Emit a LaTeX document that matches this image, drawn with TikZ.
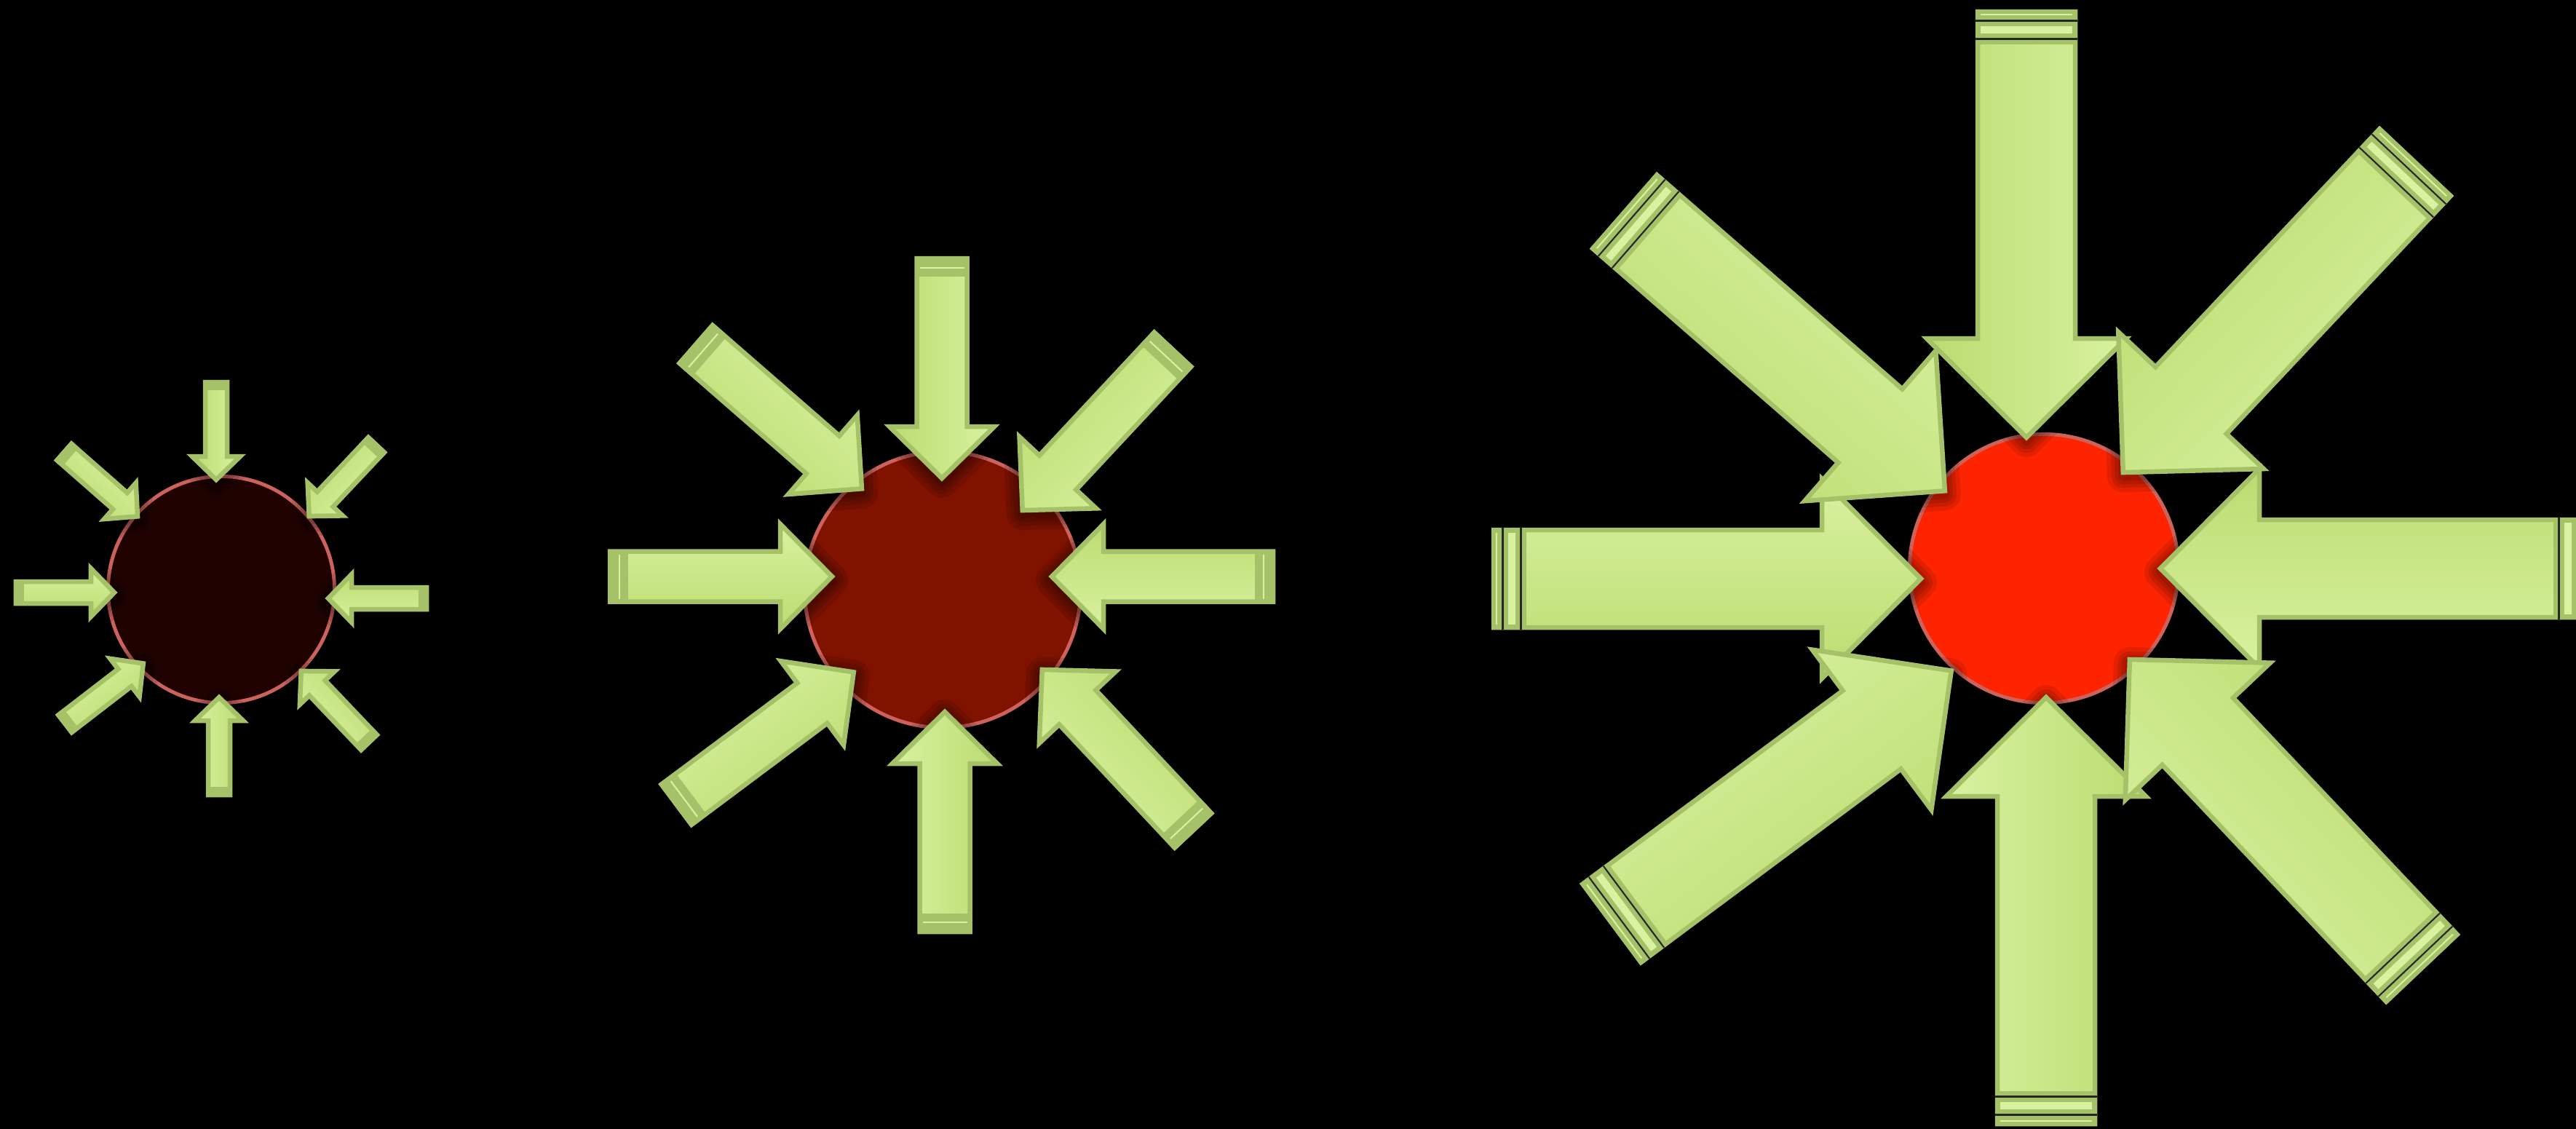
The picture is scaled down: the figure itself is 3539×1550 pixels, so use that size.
\documentclass[tikz,border=0pt]{standalone}
\usetikzlibrary{calc}

\definecolor{arrowedge}{RGB}{166,194,104}
\definecolor{arrowlight}{RGB}{216,242,160}
\definecolor{arrowdark}{RGB}{188,220,112}
\definecolor{coreedge}{RGB}{205,98,92}
\definecolor{coreone}{RGB}{32,3,0}
\definecolor{coretwo}{RGB}{128,18,0}
\definecolor{corethree}{RGB}{255,36,0}

% block arrow: tail x, tail y, tip x, tip y, shaft width, kind of tail cap
\newcommand{\blockarrow}[6]{%
  \pgfmathsetmacro{\arang}{atan2(#2-#4,#3-#1)}%
  \pgfmathsetmacro{\arlen}{veclen(#3-#1,#4-#2)}%
  \pgfmathsetmacro{\ars}{#5/2-3}%
  \pgfmathsetmacro{\arw}{#5-3}%
  \pgfmathsetmacro{\arh}{\arlen-#5}%
  \begin{scope}[shift={(#1,#2)}, rotate=\arang]
    \draw[arrowbody, shading angle=\arang] (3,-\ars) -- (\arh,-\ars) -- (\arh,-\arw)
      -- (\arlen-4,0) -- (\arh,\arw) -- (\arh,\ars) -- (3,\ars) -- cycle;
    \ifcase#6\or
      \fill[arrowedge] (0,-\ars-3) rectangle (14,\ars+3);
    \or
      \fill[arrowedge] (0,-\ars-3) rectangle (28,\ars+3);
      \draw[capline] (16,-\ars+4) -- (16,\ars-4);
    \or
      \fill[arrowedge] (0,-\ars-3) rectangle (48,\ars+3);
      \draw[capline] (7,-\ars+4) -- (7,\ars-4);
      \fill[arrowlight] (23,-\ars+4) rectangle (33,\ars-4);
      \draw[capgap] (15.5,-\ars-3) -- (15.5,\ars+3);
      \draw[capgap] (40.5,-\ars-3) -- (40.5,\ars+3);
    \fi
  \end{scope}}

% soft shadow of a block arrow on the core
\newcommand{\arrowshadow}[5]{%
  \pgfmathsetmacro{\arang}{atan2(#2-#4,#3-#1)}%
  \pgfmathsetmacro{\arlen}{veclen(#3-#1,#4-#2)}%
  \pgfmathsetmacro{\ars}{#5/2-3}%
  \pgfmathsetmacro{\arw}{#5-3}%
  \pgfmathsetmacro{\arh}{\arlen-#5}%
  \begin{scope}[shift={(#1,#2+5)}, rotate=\arang]
    \foreach \lw in {44,32,22,12}
      \draw[black, opacity=0.11, line width=\lw*0.01cm, line join=round]
        (3,-\ars) -- (\arh,-\ars) -- (\arh,-\arw) -- (\arlen-4,0) -- (\arh,\arw) -- (\arh,\ars) -- (3,\ars) -- cycle;
  \end{scope}}

\begin{document}
\begin{tikzpicture}[
    x=0.01cm, y=-0.01cm,
    core/.style={circle, draw=coreedge, line width=1.4pt, inner sep=0pt},
    arrowbody/.style={draw=arrowedge, line width=1.85pt, line join=miter,
        top color=arrowlight, bottom color=arrowdark},
    capline/.style={arrowlight, line width=0.6pt},
    capgap/.style={black!85, line width=0.6pt}
]

% Page size and background
\useasboundingbox (0,0) rectangle (3539,1550);
\fill[black] (-30,-30) rectangle (3570,1580);

% Arrows of each group: tail x/tail y/tip x/tip y
\def\arrowsA{297/522/297/663, 301/1095/301/954, 19/814/161/814, 589/822/447/822,
  86/619/192/712, 519/609/422/712, 87/996/200/909, 509/1022/411/919}
\def\arrowsB{1294/352/1294/661, 1298/1283/1298/974, 835/792/1147/792, 1752/792/1441/792,
  954/471/1187/674, 1613/478/1402/704, 927/1107/1176/921, 1641/1143/1429/917}
\def\arrowsC{2784/13/2784/605, 2811/1547/2811/954, 2049/795/2643/795, 3556/781/2964/781,
  2230/289/2675/677, 3320/221/2914/652, 2212/1270/2684/919, 3329/1332/2923/903}

% Draw the cores
\node[core, minimum size=3.11cm, fill=coreone] (coreA) at (304,810) {};
\node[core, minimum size=3.79cm, fill=coretwo] (coreB) at (1295,810) {};
\node[core, minimum size=3.69cm, fill=corethree] (coreC) at (2808,781) {};

% Shadows of the arrow heads on the cores
\begin{scope}
    \clip (coreA.center) circle (1.58cm);
    \foreach \xa/\ya/\xb/\yb in \arrowsA {\arrowshadow{\xa}{\ya}{\xb}{\yb}{36}}
\end{scope}
\begin{scope}
    \clip (coreB.center) circle (1.92cm);
    \foreach \xa/\ya/\xb/\yb in \arrowsB {\arrowshadow{\xa}{\ya}{\xb}{\yb}{75}}
\end{scope}
\begin{scope}
    \clip (coreC.center) circle (1.87cm);
    \foreach \xa/\ya/\xb/\yb in \arrowsC {\arrowshadow{\xa}{\ya}{\xb}{\yb}{140}}
\end{scope}

% Draw the arrows
\foreach \xa/\ya/\xb/\yb in \arrowsA {\blockarrow{\xa}{\ya}{\xb}{\yb}{36}{1}}
\foreach \xa/\ya/\xb/\yb in \arrowsB {\blockarrow{\xa}{\ya}{\xb}{\yb}{75}{2}}
\foreach \xa/\ya/\xb/\yb in \arrowsC {\blockarrow{\xa}{\ya}{\xb}{\yb}{140}{3}}

\end{tikzpicture}
\end{document}
